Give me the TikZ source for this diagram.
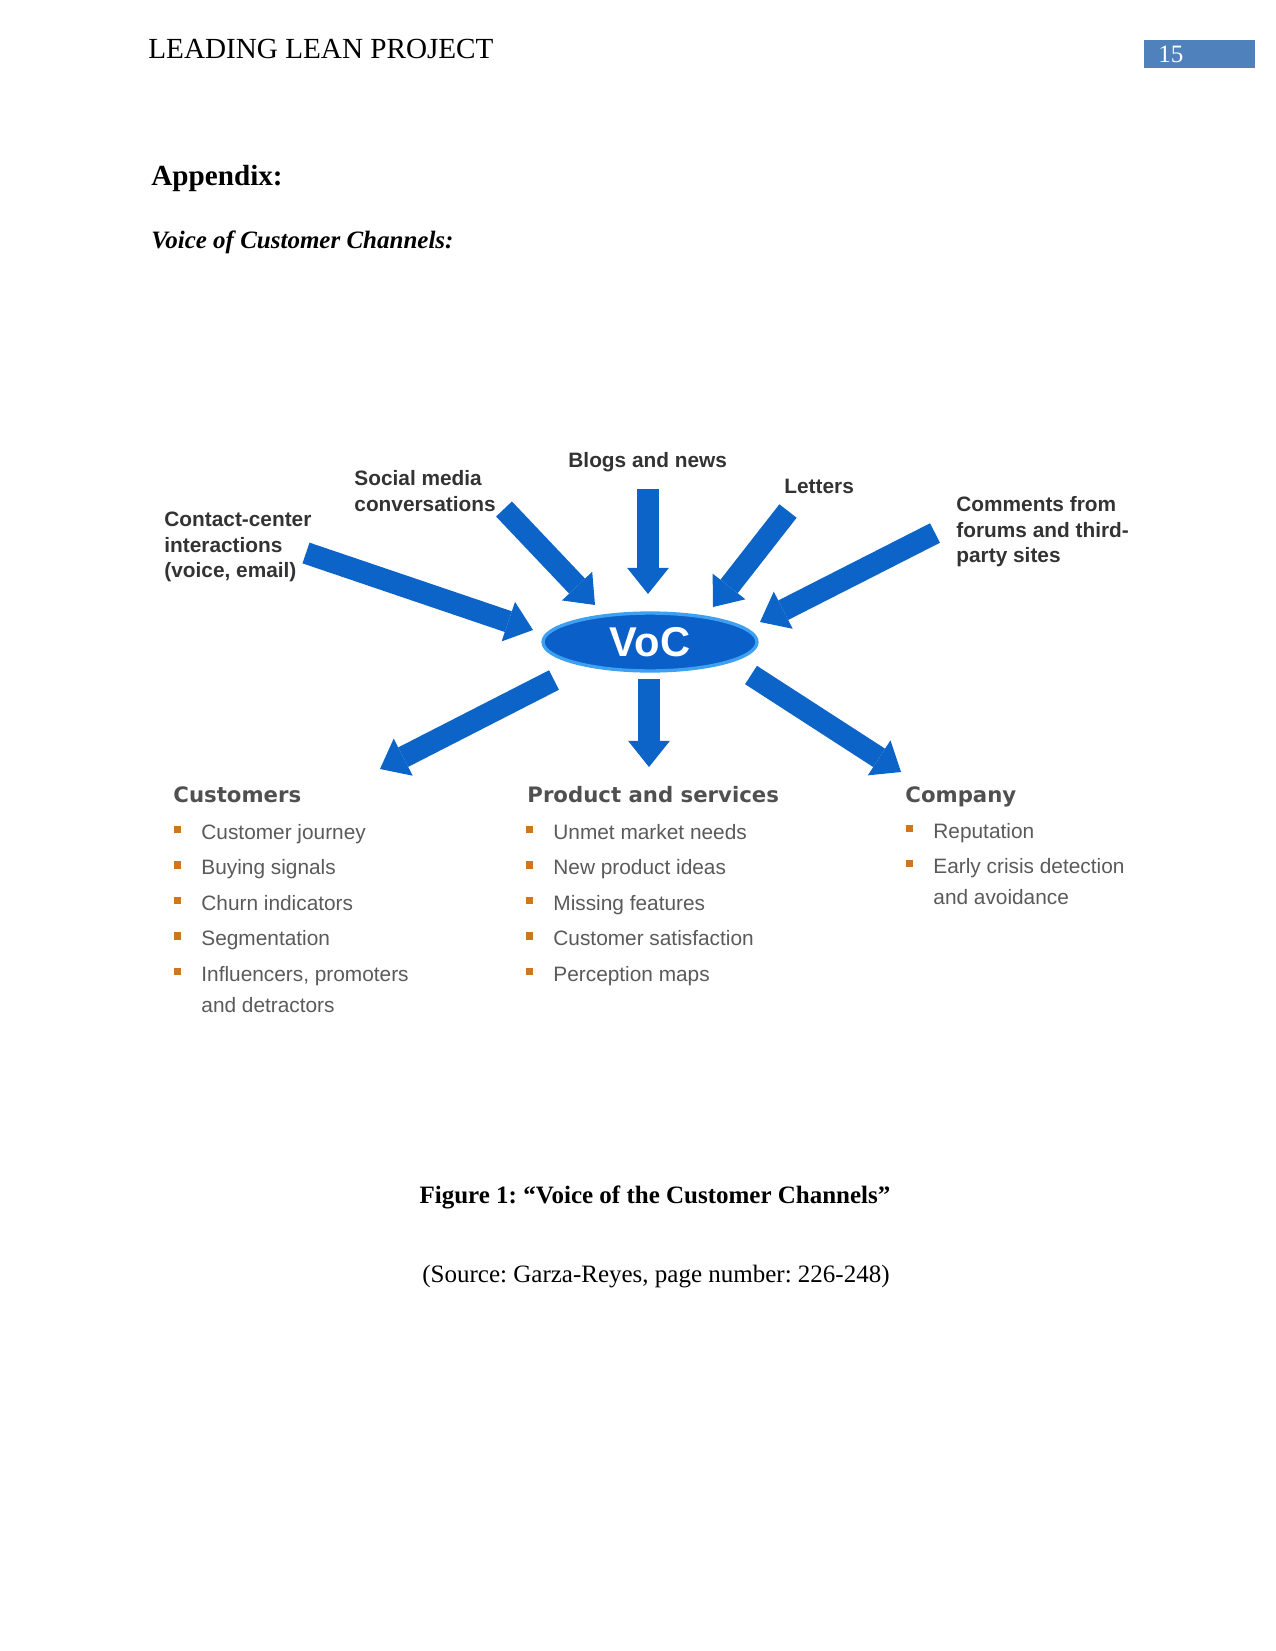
\documentclass[tikz,border=0pt]{standalone}
\usepackage{fontspec}
\setmainfont{Liberation Serif}
\setsansfont{Liberation Sans}
\newfontfamily\headfont{DejaVu Sans}
\usepackage{xcolor}
\usepackage{tikz}
\usetikzlibrary{positioning, calc, arrows.meta, shapes.geometric}
\definecolor{vocblue}{RGB}{10,96,200}
\definecolor{vocrim}{RGB}{62,160,240}
\definecolor{flowblue}{RGB}{12,100,200}
\definecolor{labelgray}{RGB}{51,51,51}
\definecolor{headgray}{RGB}{80,80,80}
\definecolor{itemgray}{RGB}{90,90,90}
\definecolor{bulletorange}{RGB}{204,119,34}
\definecolor{pageblue}{RGB}{79,129,189}
\frenchspacing

\begin{document}
\begin{tikzpicture}[
  x=0.48pt, y=-0.48pt,
  every node/.style={inner sep=0pt},
  channel/.style={anchor=north west, align=left, text=labelgray,
                  font=\sffamily\bfseries\fontsize{10}{12.24}\selectfont},
  group/.style={anchor=base west, text=headgray,
                font=\headfont\bfseries\fontsize{10.2}{12}\selectfont},
  entry/.style={anchor=base west, text=itemgray, text height=7.2pt, text depth=2.1pt,
                font=\sffamily\fontsize{10}{12}\selectfont},
  bullet/.style={fill=bulletorange, minimum size=3.4pt, inner sep=0pt,
                 label distance=9.3pt, yshift=2pt},
  item/.style={entry, label={[bullet]left:{}}},
  flow/.style={draw=flowblue, line width=10.5pt,
               -{Triangle[width=20pt, length=12.5pt, line width=0pt]}},
]
  \useasboundingbox (0,0) rectangle (1275,1651);

  % Page header
  \node[anchor=base west, font=\fontsize{14}{16}\selectfont] (header) at (148,59)
    {LEADING LEAN PROJECT};
  \node[fill=pageblue, minimum width=53.3pt, minimum height=13.4pt] (pagebox) at (1199.5,54) {};
  \node[anchor=base west, text=white, font=\fontsize{12}{14}\selectfont] (pagenum) at (1158,63) {15};

  % Headings
  \node[anchor=base west, font=\bfseries\fontsize{14}{16}\selectfont] (appendix) at (151,186)
    {Appendix:};
  \node[anchor=base west, font=\bfseries\itshape\fontsize{12}{14}\selectfont] (subtitle) at (151,248)
    {Voice of Customer Channels:};

  % Centre
  \node[ellipse, fill=vocblue, draw=vocrim, line width=1.6pt,
        minimum width=102.7pt, minimum height=27.8pt,
        text=white, font=\sffamily\bfseries\fontsize{20}{24}\selectfont] (voc) at (650,642) {VoC};

  % Channels feeding in
  \node[channel] (contact) at (164,512) {Contact-center\\interactions\\(voice, email)};
  \node[channel] (social) at (354,470) {Social media\\conversations};
  \node[channel, anchor=base west] (blogs) at (568,467) {Blogs and news};
  \node[channel, anchor=base west] (letters) at (784,493) {Letters};
  \node[channel] (comments) at (956,496) {Comments from\\forums and third-\\party sites};

  \coordinate (contactT) at (306,553);  \coordinate (contactH) at (533,630);
  \coordinate (socialT) at (504,509);   \coordinate (socialH) at (595,605);
  \coordinate (blogsT) at (648,489);    \coordinate (blogsH) at (648,594);
  \coordinate (lettersT) at (788,511);  \coordinate (lettersH) at (713,607);
  \coordinate (commentsT) at (935,533); \coordinate (commentsH) at (760,622);

  \foreach \src in {contact, social, blogs, letters, comments}
    \draw[flow] (\src T) -- (\src H);

  % Outputs
  \coordinate (custT) at (554,680); \coordinate (custH) at (380,769);
  \coordinate (prodT) at (649,679); \coordinate (prodH) at (649,767);
  \coordinate (compT) at (751,675); \coordinate (compH) at (901,772);

  \foreach \dst in {cust, prod, comp}
    \draw[flow] (\dst T) -- (\dst H);

  \node[group] (cust) at (173,802) {Customers};
  \node[group] (prod) at (527,802) {Product and services};
  \node[group] (comp) at (905,802) {Company};

  \foreach \txt [count=\i] in {Customer journey, Buying signals, Churn indicators,
                               Segmentation, {Influencers, promoters}}
    \node[item] (cust\i) at (201,{803.5+35.5*\i}) {\txt};
  \node[entry] (cust6) at (201,1012) {and detractors};

  \foreach \txt [count=\i] in {Unmet market needs, New product ideas, Missing features,
                               Customer satisfaction, Perception maps}
    \node[item] (prod\i) at (553,{803.5+35.5*\i}) {\txt};

  \node[item] (comp1) at (933,838) {Reputation};
  \node[item] (comp2) at (933,873) {Early crisis detection};
  \node[entry] (comp3) at (933,904) {and avoidance};

  % Caption
  \node[anchor=base, font=\bfseries\fontsize{12}{14}\selectfont] (caption) at (655,1203)
    {Figure 1: “Voice of the Customer Channels”};
  \node[anchor=base, font=\fontsize{12}{14}\selectfont] (source) at (656,1282)
    {(Source: Garza-Reyes, page number: 226-248)};
\end{tikzpicture}
\end{document}
